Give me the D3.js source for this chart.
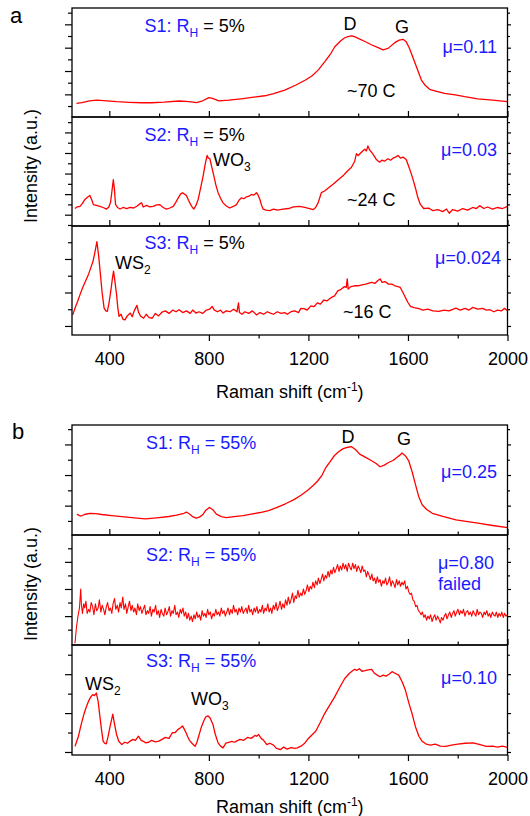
<!DOCTYPE html>
<html>
<head>
<meta charset="utf-8">
<script src="https://cdn.jsdelivr.net/npm/d3@7"></script>
<style>
  body { margin: 0; background: #fff; }
</style>
</head>
<body>
<div id="chart"></div>
<script>
// Raman spectra, [shift (cm-1), intensity (a.u.)]
const spectrumA1 = [
  [268,0.23],[290,0.3],[320,0.45],[350,0.51],[390,0.45],[430,0.38],[480,0.32],[530,0.28],[570,0.28],[620,0.33],
  [680,0.43],[720,0.38],[750,0.29],[775,0.45],[800,0.72],[815,0.66],[840,0.45],[880,0.5],[930,0.62],[980,0.76],
  [1025,0.88],[1060,1.07],[1105,1.37],[1150,1.8],[1190,2.25],[1215,2.6],[1240,3.1],[1266,3.8],[1290,4.5],[1306,5.08],
  [1330,5.6],[1346,5.85],[1362,5.97],[1375,6.02],[1388,5.92],[1400,5.8],[1425,5.55],[1453,5.25],[1480,5.0],[1500,4.82],
  [1520,4.94],[1547,5.43],[1565,5.65],[1580,5.72],[1593,5.5],[1605,5.0],[1614,4.5],[1634,3.37],[1654,2.23],[1670,1.75],
  [1687,1.43],[1715,1.25],[1747,1.09],[1790,0.95],[1828,0.8],[1880,0.62],[1940,0.5],[2000,0.37]
];

const spectrumA2 = [
  [262,1.6],[270,1.75],[282,1.81],[292,2.1],[302,2.48],[312,2.7],[322,2.87],[330,2.4],[336,1.98],[348,1.9],
  [362,1.81],[375,1.7],[389,1.55],[398,1.75],[405,2.2],[411,3.4],[416,4.4],[420,3.6],[425,2.0],[433,1.7],
  [443,1.55],[455,1.7],[470,1.6],[483,1.72],[498,1.65],[512,1.85],[525,2.1],[530,2.15],[536,1.75],[550,1.9],
  [563,1.75],[576,1.81],[590,1.95],[603,1.98],[616,1.7],[630,1.55],[643,1.65],[657,1.81],[667,2.2],[677,2.64],
  [686,3.0],[694,3.14],[702,3.0],[710,2.87],[718,2.4],[727,1.98],[734,1.7],[740,1.55],[748,1.9],[757,2.48],
  [767,3.6],[777,4.78],[785,5.9],[793,6.76],[798,6.5],[804,6.44],[812,5.6],[820,4.78],[828,3.9],[837,3.14],
  [847,2.6],[857,2.15],[870,1.85],[884,1.65],[898,1.8],[911,1.98],[921,2.4],[931,2.64],[941,2.55],[951,2.74],
  [961,2.8],[971,2.97],[981,2.9],[991,3.14],[998,2.9],[1005,2.48],[1012,1.9],[1018,1.55],[1030,1.45],[1045,1.39],
  [1060,1.55],[1075,1.45],[1098,1.55],[1120,1.6],[1140,1.75],[1165,1.81],[1185,1.7],[1205,1.6],[1219,1.49],[1229,1.7],
  [1239,2.15],[1252,3.14],[1265,3.3],[1280,3.6],[1299,3.96],[1320,4.4],[1339,4.78],[1355,5.2],[1373,5.61],[1386,6.2],
  [1393,6.93],[1400,6.76],[1410,7.0],[1418,7.2],[1426,7.36],[1433,7.2],[1439,7.69],[1446,7.3],[1453,7.1],[1462,6.8],
  [1472,6.4],[1486,6.11],[1495,6.3],[1505,6.2],[1520,6.44],[1530,6.3],[1540,6.5],[1550,6.6],[1560,6.76],[1570,6.5],
  [1580,6.6],[1593,6.37],[1606,5.5],[1620,4.46],[1630,3.6],[1640,2.64],[1650,2.0],[1663,1.6],[1684,1.63],[1700,1.4],
  [1720,1.5],[1740,1.3],[1755,1.55],[1766,1.14],[1780,1.5],[1800,1.35],[1820,1.6],[1840,1.45],[1860,1.7],[1875,1.6],
  [1888,1.88],[1905,1.6],[1920,1.75],[1940,1.55],[1960,1.7],[1980,1.6],[2000,1.8]
];

const spectrumA3 = [
  [253,0.66],[263,1.1],[273,1.48],[283,1.9],[293,2.3],[305,2.7],[317,3.11],[326,3.5],[334,3.83],[342,4.4],
  [350,5.04],[357,4.2],[364,3.11],[371,2.0],[379,1.07],[386,0.9],[392,0.87],[399,1.4],[406,2.09],[412,2.8],
  [417,3.27],[423,2.6],[429,1.89],[434,1.1],[439,0.57],[447,0.7],[455,0.4],[463,0.36],[472,0.6],[484,0.77],
  [492,0.55],[500,0.9],[511,1.23],[518,0.8],[525,0.6],[538,0.46],[548,0.7],[560,0.5],[572,0.46],[585,0.75],
  [598,0.6],[612,0.83],[625,0.9],[640,0.75],[655,0.95],[668,0.85],[680,0.97],[695,0.8],[710,0.9],[725,0.75],
  [735,0.95],[748,0.77],[760,0.85],[775,0.75],[790,0.95],[803,1.0],[813,1.17],[822,0.95],[835,0.85],[847,0.95],
  [857,0.77],[870,0.9],[885,0.85],[900,1.0],[913,0.85],[919,1.38],[923,0.8],[933,0.7],[945,0.85],[960,0.75],
  [975,0.9],[992,0.66],[1005,0.8],[1020,0.7],[1035,0.85],[1047,0.77],[1060,0.7],[1075,0.85],[1090,0.75],[1105,0.8],
  [1115,0.7],[1130,0.85],[1145,0.9],[1160,0.8],[1170,1.05],[1182,1.03],[1195,0.95],[1210,1.2],[1222,1.15],[1236,1.38],
  [1248,1.3],[1262,1.55],[1275,1.5],[1291,1.69],[1305,1.8],[1318,2.1],[1331,2.19],[1345,2.35],[1352,2.3],[1356,2.81],
  [1360,2.2],[1370,2.35],[1385,2.4],[1400,2.4],[1415,2.45],[1430,2.5],[1440,2.54],[1455,2.6],[1468,2.55],[1478,2.7],
  [1488,2.81],[1496,2.6],[1508,2.65],[1522,2.5],[1535,2.5],[1548,2.4],[1560,2.35],[1569,2.3],[1580,2.0],[1590,1.69],
  [1600,1.4],[1610,1.17],[1625,1.1],[1644,1.03],[1660,0.95],[1680,1.0],[1700,0.9],[1725,0.87],[1745,0.95],[1765,0.9],
  [1793,1.07],[1810,0.95],[1830,1.05],[1845,0.95],[1861,1.11],[1880,1.0],[1900,1.05],[1915,0.95],[1929,0.97],[1945,0.85],
  [1960,0.95],[1975,0.9],[1988,1.05],[2000,0.91]
];

const spectrumB1 = [
  [270,0.44],[280,0.35],[287,0.32],[300,0.42],[321,0.5],[345,0.48],[370,0.42],[409,0.35],[450,0.28],[500,0.2],
  [545,0.13],[590,0.2],[639,0.29],[670,0.38],[700,0.5],[710,0.58],[722,0.45],[735,0.28],[748,0.18],[762,0.25],
  [775,0.4],[788,0.7],[802,0.88],[815,0.75],[830,0.44],[850,0.28],[870,0.22],[900,0.28],[938,0.35],[970,0.45],
  [1006,0.55],[1040,0.68],[1074,0.88],[1108,1.12],[1142,1.39],[1170,1.68],[1196,1.99],[1218,2.3],[1237,2.61],[1255,3.0],
  [1270,3.49],[1288,3.9],[1304,4.26],[1320,4.5],[1338,4.71],[1355,4.8],[1372,4.86],[1390,4.65],[1406,4.37],[1430,4.15],
  [1454,3.93],[1472,3.75],[1488,3.54],[1505,3.65],[1522,3.82],[1540,3.95],[1555,4.15],[1568,4.3],[1576,4.44],[1590,4.25],
  [1603,3.93],[1617,3.2],[1630,2.39],[1643,1.6],[1657,1.06],[1675,0.75],[1698,0.5],[1740,0.3],[1793,0.07],[1840,-0.05],
  [1888,-0.16],[1940,-0.3],[2000,-0.44]
];

const spectrumB2 = [
  [262,-1.0],[268,0.2],[274,1.0],[280,1.6],[285,3.0],[288,1.8],[292,1.2],[297,1.9],[301,1.6],[306,2.1],
  [311,1.2],[317,1.5],[322,1.3],[327,2.0],[333,1.7],[338,1.1],[344,1.9],[349,1.4],[355,1.6],[360,2.2],
  [366,1.3],[371,1.8],[377,1.5],[382,1.1],[388,1.7],[393,2.0],[399,1.4],[404,1.6],[410,1.2],[415,1.9],
  [421,2.3],[426,1.5],[432,1.8],[437,1.3],[443,2.0],[448,1.6],[454,2.4],[459,1.5],[465,1.9],[470,1.2],
  [476,1.7],[481,2.1],[487,1.4],[492,1.8],[498,1.3],[503,1.6],[509,1.1],[514,1.9],[520,1.4],[525,1.7],
  [531,1.2],[536,1.5],[542,1.8],[547,1.1],[553,1.4],[558,1.2],[564,1.7],[569,1.0],[575,1.5],[580,1.3],
  [586,1.8],[591,1.1],[597,1.4],[602,0.9],[608,1.5],[613,1.2],[619,1.0],[624,1.6],[630,1.1],[635,1.3],
  [641,1.7],[646,1.0],[652,1.4],[657,1.2],[663,1.8],[668,1.1],[674,1.3],[679,0.9],[685,1.5],[690,1.2],
  [696,1.6],[701,1.0],[707,1.3],[712,0.8],[718,1.2],[723,0.7],[729,1.0],[734,0.6],[740,1.1],[745,0.8],
  [751,1.3],[756,0.9],[762,1.1],[767,0.7],[773,1.4],[778,1.0],[784,1.2],[789,0.9],[795,1.5],[800,1.1],
  [806,1.3],[811,0.8],[817,1.2],[822,1.0],[828,1.5],[833,1.1],[839,1.3],[844,1.0],[850,1.6],[855,1.2],
  [861,1.4],[866,1.0],[872,1.3],[877,1.6],[883,1.1],[888,1.5],[894,1.2],[899,1.8],[905,1.3],[910,1.5],
  [916,1.1],[921,1.6],[927,1.3],[932,1.7],[938,1.2],[943,1.4],[949,1.6],[954,1.2],[960,1.8],[965,1.3],
  [971,1.5],[976,1.1],[982,1.6],[987,1.3],[993,1.7],[998,1.2],[1004,1.5],[1009,1.3],[1015,1.8],[1020,1.2],
  [1026,1.6],[1031,1.4],[1037,1.9],[1042,1.3],[1048,1.6],[1053,1.2],[1059,1.8],[1064,1.5],[1070,2.0],[1075,1.4],
  [1081,1.7],[1086,2.1],[1092,1.5],[1097,1.9],[1103,1.6],[1108,2.2],[1114,1.8],[1119,2.4],[1125,1.9],[1130,2.2],
  [1136,2.7],[1141,2.0],[1147,2.5],[1152,2.3],[1158,2.9],[1163,2.4],[1169,2.7],[1174,2.5],[1180,3.0],[1185,2.6],
  [1191,2.9],[1196,3.3],[1202,2.8],[1207,3.2],[1213,3.0],[1218,3.5],[1224,3.1],[1229,3.6],[1235,3.3],[1240,3.8],
  [1246,3.4],[1251,3.7],[1257,4.1],[1262,3.6],[1268,4.0],[1273,3.8],[1279,4.3],[1284,3.9],[1290,4.4],[1295,4.1],
  [1301,4.6],[1306,4.2],[1312,4.5],[1317,4.8],[1323,4.3],[1328,4.7],[1334,4.4],[1339,4.9],[1345,4.5],[1350,4.8],
  [1356,4.3],[1361,4.9],[1367,4.6],[1372,4.4],[1378,4.9],[1383,4.5],[1389,4.8],[1394,4.3],[1400,4.7],[1405,4.5],
  [1411,4.2],[1416,4.7],[1422,4.3],[1427,4.4],[1433,3.9],[1438,4.3],[1444,4.0],[1449,3.7],[1455,4.1],[1460,3.6],
  [1466,3.8],[1471,3.4],[1477,3.9],[1482,3.5],[1488,3.7],[1493,3.2],[1499,3.6],[1504,3.4],[1510,3.8],[1515,3.3],
  [1521,3.5],[1526,3.9],[1532,3.2],[1537,3.6],[1543,3.4],[1548,3.1],[1554,3.7],[1559,3.3],[1565,3.6],[1570,3.2],
  [1576,3.5],[1581,3.3],[1587,3.6],[1592,3.0],[1598,3.2],[1603,2.8],[1609,2.6],[1614,2.7],[1620,2.2],[1625,2.1],
  [1631,1.7],[1636,1.8],[1642,1.4],[1647,1.3],[1653,1.1],[1658,1.3],[1664,0.9],[1669,1.1],[1675,0.7],[1680,1.0],
  [1686,0.8],[1691,1.1],[1697,0.6],[1702,0.9],[1708,1.1],[1713,0.7],[1719,1.0],[1724,0.8],[1730,0.5],[1735,0.9],
  [1741,0.7],[1746,1.0],[1752,1.2],[1757,0.8],[1763,1.1],[1768,1.3],[1774,0.9],[1779,1.2],[1785,1.4],[1790,1.0],
  [1796,1.3],[1801,1.5],[1807,1.1],[1812,1.4],[1818,1.2],[1823,1.5],[1829,1.0],[1834,1.3],[1840,1.4],[1845,1.1],
  [1851,1.3],[1856,1.0],[1862,1.4],[1867,1.2],[1873,1.0],[1878,1.5],[1884,1.1],[1889,1.3],[1895,1.2],[1900,0.9],
  [1906,1.3],[1911,1.1],[1917,1.4],[1922,1.0],[1928,1.2],[1933,0.9],[1939,1.3],[1944,1.1],[1950,1.0],[1955,1.3],
  [1961,0.9],[1966,1.2],[1972,1.0],[1977,1.3],[1983,0.9],[1988,1.2],[1994,1.0],[2000,1.1]
];

const spectrumB3 = [
  [262,0.29],[269,0.55],[276,0.81],[283,1.2],[289,1.52],[298,1.95],[307,2.3],[316,2.6],[325,2.82],[333,2.95],
  [340,2.9],[348,3.03],[355,2.6],[361,1.95],[368,1.2],[375,0.56],[381,0.45],[388,0.42],[395,0.8],[402,1.25],
  [408,1.6],[414,1.95],[420,1.5],[429,0.9],[438,0.55],[450,0.38],[462,0.5],[473,0.45],[484,0.56],[495,0.65],
  [505,0.6],[517,0.81],[528,0.6],[537,0.55],[545,0.47],[558,0.5],[570,0.6],[585,0.52],[599,0.56],[612,0.65],
  [625,0.75],[640,0.7],[653,0.99],[665,1.0],[675,1.15],[686,1.25],[694,1.34],[700,1.2],[708,1.0],[714,0.81],
  [722,0.6],[732,0.45],[740,0.35],[745,0.29],[752,0.5],[760,0.85],[769,1.25],[778,1.55],[787,1.8],[796,1.86],
  [805,1.75],[816,1.43],[826,0.9],[837,0.47],[847,0.3],[857,0.21],[868,0.45],[880,0.5],[892,0.55],[903,0.5],
  [911,0.56],[925,0.65],[940,0.6],[955,0.75],[970,0.7],[985,0.85],[992,0.81],[1000,0.9],[1010,0.7],[1020,0.6],
  [1033,0.38],[1045,0.45],[1060,0.35],[1070,0.2],[1087,0.12],[1100,0.25],[1115,0.15],[1130,0.22],[1145,0.18],[1155,0.21],
  [1170,0.3],[1185,0.45],[1196,0.64],[1212,0.85],[1230,1.08],[1247,1.5],[1264,1.95],[1285,2.4],[1305,2.82],[1325,3.3],
  [1346,3.78],[1365,4.05],[1380,4.2],[1386,4.25],[1395,4.2],[1405,4.28],[1415,4.15],[1427,4.18],[1440,4.22],[1454,4.25],
  [1465,4.05],[1477,3.95],[1488,3.87],[1500,3.95],[1512,3.9],[1524,4.0],[1536,4.13],[1548,4.05],[1563,3.95],[1577,3.6],
  [1590,3.17],[1604,2.5],[1617,1.95],[1630,1.3],[1644,0.81],[1657,0.55],[1671,0.42],[1690,0.35],[1710,0.4],[1730,0.3],
  [1752,0.29],[1775,0.35],[1800,0.4],[1830,0.45],[1861,0.47],[1890,0.38],[1915,0.29],[1940,0.3],[1960,0.25],[1980,0.3],
  [2000,0.24]
];

// axis ticks
const shiftMajor = [400, 800, 1200, 1600, 2000];
const shiftMinor = [600, 1000, 1400, 1800];

// text content
const sampleNames = ["S1", "S2", "S3"];
const humidity = ["5%", "55%"];
const frictionA = ["μ=0.11", "μ=0.03", "μ=0.024"];
const frictionB = ["μ=0.25", "μ=0.80", "μ=0.10"];
const carbonA = ["~70 C", "~24 C", "~16 C"];

const W = 530, H = 816;
const BLUE = "#1a1aff", RED = "#ff0000", FONT = "'Liberation Sans', Arial, sans-serif";

const x = d3.scaleLinear().domain([250, 2000]).range([72, 507.5]);

// panel layout: top, height, y-domain (a.u.), which minor-unit ticks are long
const panels = [
  {group: 0, row: 0, data: spectrumA1, top: 8,   h: 109, yLo: -0.94, yHi: 8.4,  majorOdd: true,  lw: 1.3},
  {group: 0, row: 1, data: spectrumA2, top: 117, h: 109, yLo: -0.1,  yHi: 10.5, majorOdd: true,  lw: 1.3},
  {group: 0, row: 2, data: spectrumA3, top: 226, h: 109, yLo: -0.54, yHi: 5.97, majorOdd: false, lw: 1.3},
  {group: 1, row: 0, data: spectrumB1, top: 425, h: 110, yLo: -0.92, yHi: 6.27, majorOdd: true,  lw: 1.3},
  {group: 1, row: 1, data: spectrumB2, top: 535, h: 110, yLo: -1.13, yHi: 6.98, majorOdd: true,  lw: 1.1},
  {group: 1, row: 2, data: spectrumB3, top: 645, h: 110, yLo: -0.155, yHi: 5.5, majorOdd: false, lw: 1.3}
];

const svg = d3.select("#chart").append("svg")
  .attr("width", W)
  .attr("height", H)
  .style("font-family", FONT);

function cleanAxis(g) {
  g.select(".domain").remove();
  g.selectAll(".tick line").attr("stroke", "#000").attr("stroke-width", 1.2);
}

panels.forEach((p, i) => {
  const y = d3.scaleLinear().domain([p.yLo, p.yHi]).range([p.top + p.h, p.top]);
  const g = svg.append("g");
  const last = p.row === 2;

  const ticks = d3.range(0, Math.floor(p.yHi) + 1);
  const major = ticks.filter(t => (t % 2 === 1) === p.majorOdd);
  const minor = ticks.filter(t => (t % 2 === 1) !== p.majorOdd);

  // left and right ticks (outward)
  g.append("g").attr("transform", `translate(${x.range()[0]},0)`)
    .call(d3.axisLeft(y).tickValues(major).tickSize(7).tickFormat("")).call(cleanAxis);
  g.append("g").attr("transform", `translate(${x.range()[0]},0)`)
    .call(d3.axisLeft(y).tickValues(minor).tickSize(4).tickFormat("")).call(cleanAxis);
  g.append("g").attr("transform", `translate(${x.range()[1]},0)`)
    .call(d3.axisRight(y).tickValues(major).tickSize(3.5).tickFormat("")).call(cleanAxis);
  g.append("g").attr("transform", `translate(${x.range()[1]},0)`)
    .call(d3.axisRight(y).tickValues(minor).tickSize(2.5).tickFormat("")).call(cleanAxis);

  // bottom ticks: inward for the stacked panels, outward with labels for the last one
  const bottomY = p.top + p.h;
  const dir = last ? 1 : -1;
  const majorAxis = d3.axisBottom(x).tickValues(shiftMajor).tickSize(6 * dir)
    .tickPadding(last ? 11 : 3).tickFormat(last ? d3.format("d") : "");
  const gx = g.append("g").attr("transform", `translate(0,${bottomY})`).call(majorAxis).call(cleanAxis);
  gx.selectAll("text").attr("font-family", FONT).attr("font-size", 18).attr("fill", "#000");
  g.append("g").attr("transform", `translate(0,${bottomY})`)
    .call(d3.axisBottom(x).tickValues(shiftMinor).tickSize(3.5 * dir).tickFormat("")).call(cleanAxis);

  // spectrum
  const clipId = `clip${i}`;
  svg.append("clipPath").attr("id", clipId).append("rect")
    .attr("x", x.range()[0]).attr("y", p.top)
    .attr("width", x.range()[1] - x.range()[0]).attr("height", p.h);

  const line = d3.line().x(d => x(d[0])).y(d => y(d[1]));
  g.append("path")
    .datum(p.data)
    .attr("clip-path", `url(#${clipId})`)
    .attr("d", line)
    .attr("fill", "none")
    .attr("stroke", RED)
    .attr("stroke-width", p.lw)
    .attr("stroke-linejoin", "round");

  // frame
  g.append("rect")
    .attr("x", x.range()[0]).attr("y", p.top)
    .attr("width", x.range()[1] - x.range()[0]).attr("height", p.h)
    .attr("fill", "none").attr("stroke", "#000").attr("stroke-width", 1.3);
});

// text with sub/superscript pieces: [text, colour, "sub"|"sup"|undefined]
function rich(parts, px, py, size = 18, anchor = "start") {
  const t = svg.append("text").attr("x", px).attr("y", py)
    .attr("font-size", size).attr("text-anchor", anchor);
  let shift = 0;
  parts.forEach(([s, c, kind]) => {
    const want = kind === "sub" ? 5 : kind === "sup" ? -7 : 0;
    t.append("tspan")
      .attr("dy", want - shift)
      .attr("font-size", kind ? 12 : size)
      .attr("fill", c)
      .text(s);
    shift = want;
  });
  return t;
}

// sample / humidity labels
const rhY = [[32, 140.5, 249], [449, 561, 667]];
[0, 1].forEach(gi => {
  sampleNames.forEach((s, r) => {
    const tail = gi === 0 ? "#000" : BLUE;
    rich([[`${s}: R`, BLUE], ["H", BLUE, "sub"], [` = ${humidity[gi]}`, tail]], gi === 0 ? 144.5 : 146, rhY[gi][r]);
  });
});

// friction coefficients
const muA = [53, 156, 264];
frictionA.forEach((m, r) => rich([[m, BLUE]], r === 2 ? 501 : 497, muA[r], 18, "end"));
rich([[frictionB[0], BLUE]], 497, 478, 18, "end");
rich([[frictionB[1], BLUE]], 438, 569);
rich([["failed", BLUE]], 438, 590);
rich([[frictionB[2], BLUE]], 497, 684, 18, "end");

// carbon content
const carbonPos = [[347, 97], [347, 206], [343, 318]];
carbonA.forEach((c, r) => rich([[c, "#000"]], carbonPos[r][0], carbonPos[r][1]));

// band labels
rich([["D", "#000"]], 350, 30, 18, "middle");
rich([["G", "#000"]], 402, 33, 18, "middle");
rich([["D", "#000"]], 348, 443, 18, "middle");
rich([["G", "#000"]], 404, 445, 18, "middle");
rich([["WO", "#000"], ["3", "#000", "sub"]], 213, 166);
rich([["WS", "#000"], ["2", "#000", "sub"]], 115, 269);
rich([["WS", "#000"], ["2", "#000", "sub"]], 85, 690);
rich([["WO", "#000"], ["3", "#000", "sub"]], 191, 705);

// panel letters
rich([["a", "#000"]], 10, 23, 22);
rich([["b", "#000"]], 12, 439, 22);

// axis titles
const midX = (x.range()[0] + x.range()[1]) / 2;
[398, 813].forEach(by => {
  rich([["Raman shift (cm", "#000"], ["-1", "#000", "sup"], [")", "#000"]], midX, by, 18, "middle");
});
[166, 584].forEach(cy => {
  svg.append("text")
    .attr("transform", `translate(37,${cy}) rotate(-90)`)
    .attr("text-anchor", "middle")
    .attr("font-size", 18)
    .attr("fill", "#000")
    .text("Intensity (a.u.)");
});
</script>
</body>
</html>
